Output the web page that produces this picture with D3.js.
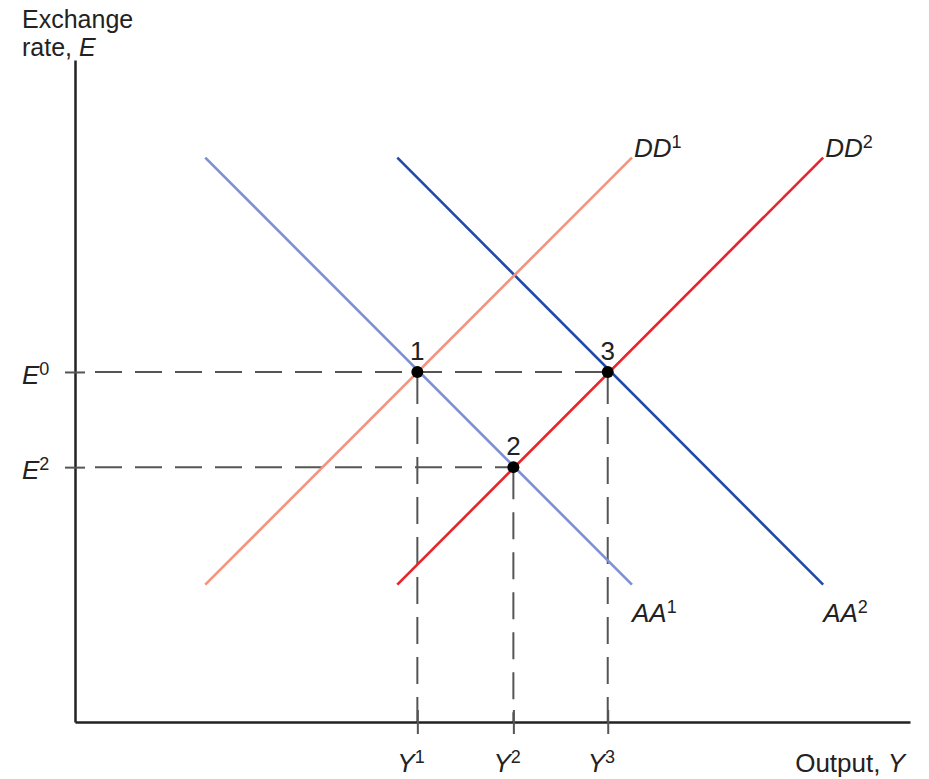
<!DOCTYPE html>
<html>
<head>
<meta charset="utf-8">
<script src="https://cdn.jsdelivr.net/npm/d3@7"></script>
<style>
  body { margin: 0; background: #fff; }
  svg text { font-family: "Liberation Sans", Arial, sans-serif; fill: #222; }
</style>
</head>
<body>
<svg id="chart" width="929" height="779"></svg>
<script>
// curves (schematic units: x 0-100, y 0-80)
var curveNames = ["AA", "AA", "DD", "DD"];
var curveSups = ["1", "2", "1", "2"];
var curveX0 = [15.6, 38.6, 15.6, 38.6];
var curveY0 = [68.2, 68.2, 16.6, 16.6];
var curveX1 = [66.7, 89.6, 66.7, 89.6];
var curveY1 = [16.6, 16.6, 68.2, 68.2];

// equilibrium points
var pointLabels = ["1", "2", "3"];
var pointX = [41, 52.5, 63.8];
var pointY = [42.3, 30.8, 42.3];

// tick labels
var xTickVals = [41, 52.5, 63.8];
var xTickSups = ["1", "2", "3"];
var yTickVals = [42.3, 30.8];
var yTickSups = ["0", "2"];

var curveColors = ["#7d90d4", "#1f4aa8", "#f5937f", "#e8232b"];
var fontSize = 26;
var supSize = 18;

var svg = d3.select("#chart");

var x = d3.scaleLinear().domain([0, 100]).range([75, 910]);
var y = d3.scaleLinear().domain([0, 80]).range([722, 60]);

// dashed guide lines
var guides = svg.append("g")
  .attr("stroke", "#555")
  .attr("stroke-width", 2)
  .attr("fill", "none");

pointLabels.forEach(function (d, i) {
  guides.append("line")
    .attr("x1", x(0) + 20).attr("x2", x(pointX[i]))
    .attr("y1", y(pointY[i])).attr("y2", y(pointY[i]))
    .attr("stroke-dasharray", "27,13");
  guides.append("line")
    .attr("x1", x(pointX[i])).attr("x2", x(pointX[i]))
    .attr("y1", y(pointY[i])).attr("y2", y(0))
    .attr("stroke-dasharray", "27,13")
    .attr("stroke-dashoffset", -5);
});

// axes
var xAxis = d3.axisBottom(x).tickValues(xTickVals).tickSize(12).tickSizeOuter(0).tickFormat("");
var yAxis = d3.axisLeft(y).tickValues(yTickVals).tickSize(10).tickSizeOuter(0).tickFormat("");

var gx = svg.append("g").attr("transform", "translate(0," + y(0) + ")").call(xAxis);
var gy = svg.append("g").attr("transform", "translate(" + x(0) + ",0)").call(yAxis);

[gx, gy].forEach(function (g) {
  g.select(".domain").attr("stroke", "#222").attr("stroke-width", 2.5);
  g.selectAll(".tick line").attr("stroke", "#555").attr("stroke-width", 2);
});
gx.selectAll(".tick line").attr("y1", -12);
gy.selectAll(".tick line").attr("x2", 10).attr("x1", -10);

// curves
curveNames.forEach(function (name, i) {
  svg.append("line")
    .attr("x1", x(curveX0[i])).attr("y1", y(curveY0[i]))
    .attr("x2", x(curveX1[i])).attr("y2", y(curveY1[i]))
    .attr("stroke", curveColors[i])
    .attr("stroke-width", 2.6);

  var isDD = name === "DD";
  var t = svg.append("text")
    .attr("x", x(curveX1[i]) + (isDD ? 2 : 0))
    .attr("y", y(curveY1[i]) + (isDD ? -1 : 37))
    .attr("font-size", fontSize);
  t.append("tspan").attr("font-style", "italic").text(name);
  t.append("tspan").attr("font-size", supSize).attr("dy", -9).text(curveSups[i]);
});

// points
pointLabels.forEach(function (d, i) {
  svg.append("circle")
    .attr("cx", x(pointX[i])).attr("cy", y(pointY[i]))
    .attr("r", 6).attr("fill", "#000");
  svg.append("text")
    .attr("x", x(pointX[i])).attr("y", y(pointY[i]) - 12)
    .attr("text-anchor", "middle")
    .attr("font-size", fontSize)
    .text(d);
});

// tick labels
xTickVals.forEach(function (v, i) {
  var t = svg.append("text")
    .attr("x", x(v) - 20).attr("y", 772)
    .attr("font-size", fontSize);
  t.append("tspan").attr("font-style", "italic").text("Y");
  t.append("tspan").attr("font-size", supSize).attr("dy", -9).text(xTickSups[i]);
});
yTickVals.forEach(function (v, i) {
  var t = svg.append("text")
    .attr("x", 22).attr("y", y(v) + 12)
    .attr("font-size", fontSize);
  t.append("tspan").attr("font-style", "italic").text("E");
  t.append("tspan").attr("font-size", supSize).attr("dy", -9).text(yTickSups[i]);
});

// axis titles
svg.append("text").attr("x", 22).attr("y", 28).attr("font-size", 25).text("Exchange");
var yt = svg.append("text").attr("x", 22).attr("y", 56).attr("font-size", 25);
yt.append("tspan").text("rate, ");
yt.append("tspan").attr("font-style", "italic").text("E");

var xt = svg.append("text").attr("x", 905).attr("y", 772).attr("text-anchor", "end").attr("font-size", fontSize);
xt.append("tspan").text("Output, ");
xt.append("tspan").attr("font-style", "italic").text("Y");
</script>
</body>
</html>
